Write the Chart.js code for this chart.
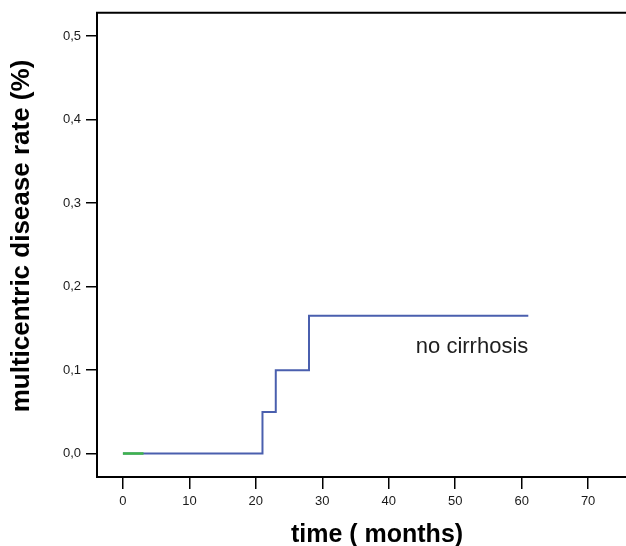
<!DOCTYPE html>
<html>
<head>
<meta charset="utf-8">
<script src="https://cdn.jsdelivr.net/npm/chart.js@4"></script>
<style>
  html, body { margin: 0; padding: 0; background: #fff; overflow: hidden; }
  #chart { display: block; }
</style>
</head>
<body>
<canvas id="chart" width="626" height="546"></canvas>
<script>
'use strict';

// ---- data ----
const noCirrhosisTimes = [0, 21, 23, 28, 61];
const noCirrhosisRates = [0, 0.05, 0.1, 0.165, 0.165];
const greenTimes = [0, 3.1];
const greenRates = [0, 0];

const xTicks = [0, 10, 20, 30, 40, 50, 60, 70];
const yTicks = [0, 0.1, 0.2, 0.3, 0.4, 0.5];

const seriesLabel = 'no cirrhosis';
const xTitle = 'time ( months)';
const yTitle = 'multicentric disease rate (%)';

const toPoints = (xs, ys) => xs.map((x, i) => ({ x, y: ys[i] }));

// frame line across the top + axis titles + curve label
const decorPlugin = {
  id: 'decor',
  afterDraw(chart) {
    const { ctx, chartArea, scales } = chart;
    ctx.save();
    ctx.strokeStyle = '#000';
    ctx.lineWidth = 2;
    ctx.beginPath();
    ctx.moveTo(chartArea.left - 1, chartArea.top);
    ctx.lineTo(chartArea.right + 2, chartArea.top);
    ctx.stroke();

    // curve label, right-aligned to the end of the series
    const lastX = noCirrhosisTimes[noCirrhosisTimes.length - 1];
    ctx.fillStyle = '#1e1e1e';
    ctx.font = '22px "Liberation Sans", Arial, sans-serif';
    ctx.textAlign = 'right';
    ctx.textBaseline = 'alphabetic';
    ctx.fillText(seriesLabel, scales.x.getPixelForValue(lastX), scales.y.getPixelForValue(0.12));

    // axis titles
    ctx.fillStyle = '#000';
    ctx.font = 'bold 25px "Liberation Sans", Arial, sans-serif';
    ctx.textAlign = 'center';
    ctx.fillText(xTitle, 377, 542);

    ctx.font = 'bold 26px "Liberation Sans", Arial, sans-serif';
    ctx.translate(29, 236);
    ctx.rotate(-Math.PI / 2);
    ctx.fillText(yTitle, 0, 0);
    ctx.restore();
  }
};

const tickFont = { family: '"Liberation Sans", Arial, sans-serif', size: 13 };

new Chart(document.getElementById('chart'), {
  type: 'line',
  data: {
    datasets: [
      {
        label: 'green',
        data: toPoints(greenTimes, greenRates),
        borderColor: '#3db54a',
        borderWidth: 2.5,
        pointRadius: 0,
        stepped: 'before',
        order: 0
      },
      {
        label: seriesLabel,
        data: toPoints(noCirrhosisTimes, noCirrhosisRates),
        borderColor: '#4a5fae',
        borderWidth: 2,
        pointRadius: 0,
        stepped: 'before',
        order: 1
      }
    ]
  },
  options: {
    responsive: false,
    animation: false,
    devicePixelRatio: 1,
    layout: { padding: { top: 11, right: 0, left: 0, bottom: 0 } },
    plugins: { legend: { display: false }, tooltip: { enabled: false } },
    scales: {
      x: {
        type: 'linear',
        min: -3.9,
        max: 75.7,
        afterFit: s => { s.height = 69; },
        afterBuildTicks: s => { s.ticks = xTicks.map(v => ({ value: v })); },
        border: { display: true, color: '#000', width: 2 },
        grid: { drawOnChartArea: false, drawTicks: true, tickLength: 12, color: '#000', lineWidth: 1.5 },
        ticks: { color: '#1a1a1a', font: tickFont, padding: 5, maxRotation: 0 }
      },
      y: {
        type: 'linear',
        min: -0.028,
        max: 0.528,
        afterFit: s => { s.width = 97; },
        afterBuildTicks: s => { s.ticks = yTicks.map(v => ({ value: v })); },
        border: { display: true, color: '#000', width: 2 },
        grid: { drawOnChartArea: false, drawTicks: true, tickLength: 11, color: '#000', lineWidth: 1.5 },
        ticks: {
          color: '#1a1a1a', font: tickFont, padding: 5,
          callback: v => v.toFixed(1).replace('.', ',')
        }
      }
    }
  },
  plugins: [decorPlugin]
});
</script>
</body>
</html>
